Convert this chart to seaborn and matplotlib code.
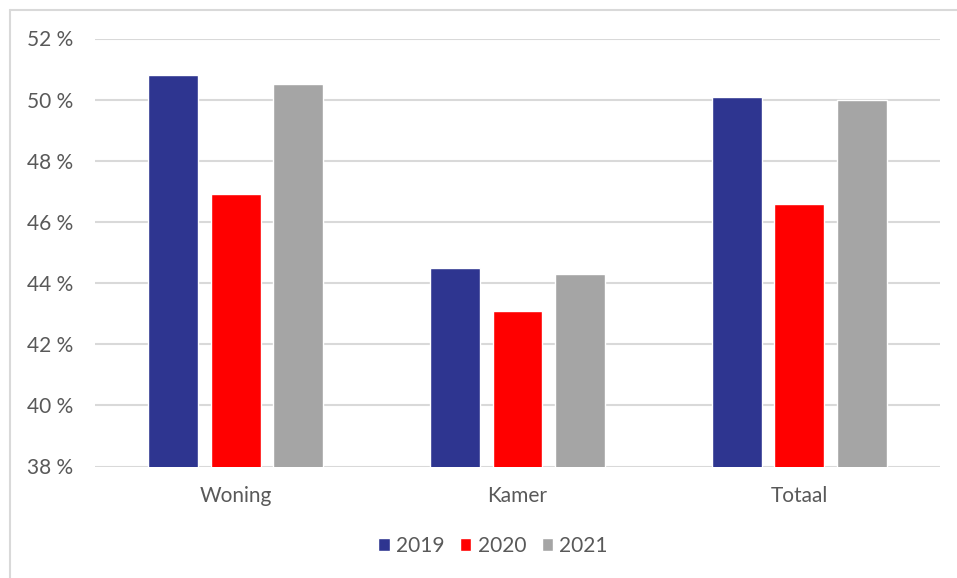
import matplotlib
matplotlib.use("Agg")
import matplotlib.pyplot as plt
import seaborn as sns
import pandas as pd
from matplotlib.lines import Line2D
from matplotlib.ticker import FuncFormatter

categories = ["Woning", "Kamer", "Totaal"]
years = ["2019", "2020", "2021"]
v2019 = [50.8, 44.5, 50.1]
v2020 = [46.9, 43.1, 46.6]
v2021 = [50.5, 44.3, 50.0]
yticks = [38, 40, 42, 44, 46, 48, 50, 52]

rows = []
for yr, vals in zip(years, [v2019, v2020, v2021]):
    for c, v in zip(categories, vals):
        rows.append({"cat": c, "year": yr, "value": v})
df = pd.DataFrame(rows)

sns.set_theme(style="white")
plt.rcParams['font.family'] = ['Lato', 'DejaVu Sans']
text_color = "#595959"

fig = plt.figure(figsize=(9.57, 5.78), dpi=100)
ax = fig.add_axes([95/957, 1-466.5/578, (940-95)/957, (466.5-38.5)/578])

palette = {"2019": "#2E3590", "2020": "#FF0000", "2021": "#A5A5A5"}
sns.barplot(data=df, x="cat", y="value", hue="year", order=categories,
            hue_order=years, palette=palette, width=0.665, gap=0.2,
            ax=ax, saturation=1, legend=True, zorder=3)

ax.set_ylim(38, 52)
ax.set_yticks(yticks)
ax.yaxis.set_major_formatter(FuncFormatter(lambda v, p: f"{int(v)} %"))
ax.set_xlim(-0.5, 2.5)
ax.grid(axis="y", color="#D9D9D9", linewidth=1.5, zorder=0)
ax.set_axisbelow(True)
for s in ax.spines.values():
    s.set_visible(False)
ax.set_xlabel("")
ax.set_ylabel("")
ax.tick_params(axis="y", labelsize=15, colors=text_color, length=0, pad=16)
ax.tick_params(axis="x", labelsize=15, colors=text_color, length=0, pad=14)

handles, labels = ax.get_legend_handles_labels()
ax.legend_.remove()
fig.legend(handles, labels, loc="center", bbox_to_anchor=(493/957, 1-546/578),
           ncol=3, frameon=False, fontsize=15, labelcolor=text_color,
           handlelength=0.55, handleheight=0.55, handletextpad=0.3,
           columnspacing=0.75)

fig.add_artist(Line2D([10/957, 1], [1-10/578, 1-10/578], color="#D9D9D9", lw=1.5))
fig.add_artist(Line2D([10/957, 10/957], [0, 1-10/578], color="#D9D9D9", lw=1.5))

fig.savefig("out.png", dpi=100)
